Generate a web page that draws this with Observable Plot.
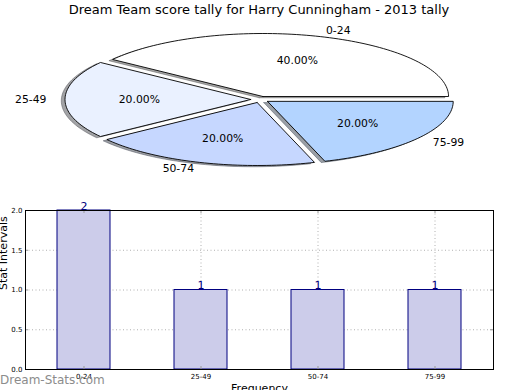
<!DOCTYPE html>
<html>
<head>
<meta charset="utf-8">
<script src="https://cdn.jsdelivr.net/npm/d3@7"></script>
<script src="https://cdn.jsdelivr.net/npm/@observablehq/plot@0.6"></script>
<style>
  html, body { margin: 0; padding: 0; background: #fff; }
  #wrap { position: relative; width: 520px; height: 390px; overflow: hidden; font-family: "DejaVu Sans", sans-serif; }
  #title { position: absolute; left: 0; width: 518px; top: 2px; text-align: center; font-size: 13px; color: #000; }
  #pie { position: absolute; left: 0; top: 0; }
  #bar { position: absolute; left: 0; top: 195px; }
  #wm { position: absolute; left: 0; top: 373px; font-size: 12px; color: #8c8c8c; }
  svg { overflow: hidden; }
</style>
</head>
<body>
<div id="wrap">
  <div id="pie"></div>
  <div id="bar"></div>
  <div id="title">Dream Team score tally for Harry Cunningham - 2013 tally</div>
  <div id="wm">Dream-Stats.com</div>
</div>
<script>
// ---- data ----
const categories = ["0-24", "25-49", "50-74", "75-99"];
const counts = [2, 1, 1, 1];
const sliceColors = ["#ffffff", "#eaf1ff", "#c6d7ff", "#b3d4ff"];
const yTicks = [0, 0.5, 1.0, 1.5, 2.0];
const explode = 0.05;

const font = "DejaVu Sans, sans-serif";

// ---- pie geometry (data space, unit radius) ----
const total = d3.sum(counts);
let acc = 0;
const slices = categories.map((cat, i) => {
  const frac = counts[i] / total;
  const a0 = acc * 2 * Math.PI, a1 = (acc + frac) * 2 * Math.PI;
  acc += frac;
  const mid = (a0 + a1) / 2;
  const cx = explode * Math.cos(mid), cy = explode * Math.sin(mid);
  const n = Math.max(8, Math.ceil(frac * 240));
  const pts = [{x: cx, y: cy}];
  for (let k = 0; k <= n; k++) {
    const a = a0 + (a1 - a0) * k / n;
    pts.push({x: cx + Math.cos(a), y: cy + Math.sin(a)});
  }
  pts.push({x: cx, y: cy});
  return {cat, frac, mid, cx, cy, pts, color: sliceColors[i]};
});

function shade(c) {
  const r = d3.rgb(c);
  return d3.rgb(r.r * 0.3, r.g * 0.3, r.b * 0.3).formatHex();
}

const pieMarks = [];
for (const s of slices) {
  const sh = s.pts.map(p => ({x: p.x - 0.02, y: p.y - 0.02}));
  pieMarks.push(Plot.line(sh, {x: "x", y: "y", fill: shade(s.color), fillOpacity: 0.5,
    stroke: shade(s.color), strokeOpacity: 0.5, strokeWidth: 0.9, strokeLinejoin: "miter"}));
}
for (const s of slices) {
  pieMarks.push(Plot.line(s.pts, {x: "x", y: "y", fill: s.color, stroke: "#000",
    strokeWidth: 0.9, strokeLinejoin: "miter", strokeMiterlimit: 4}));
}
const outerLabels = slices.map(s => ({
  x: s.cx + 1.1 * Math.cos(s.mid), y: s.cy + 1.1 * Math.sin(s.mid), t: s.cat
}));
const pctLabels = slices.map(s => ({
  x: s.cx + 0.6 * Math.cos(s.mid), y: s.cy + 0.6 * Math.sin(s.mid), t: (s.frac * 100).toFixed(2) + "%"
}));
pieMarks.push(Plot.text(outerLabels.filter(d => d.x > 0), {x: "x", y: "y", text: "t", textAnchor: "start", fontSize: 10.8, fontFamily: font, fill: "#000"}));
pieMarks.push(Plot.text(outerLabels.filter(d => d.x <= 0), {x: "x", y: "y", text: "t", textAnchor: "end", fontSize: 10.8, fontFamily: font, fill: "#000"}));
pieMarks.push(Plot.text(pctLabels, {x: "x", y: "y", text: "t", fontSize: 10.8, fontFamily: font, fill: "#000"}));

const pie = Plot.plot({
  width: 520, height: 195,
  margin: 0,
  x: {domain: [-1, 1], range: [73.8, 445.2], axis: null},
  y: {domain: [-1, 1], range: [162, 36], axis: null},
  style: {background: "transparent", fontFamily: font},
  marks: pieMarks
});
document.getElementById("pie").appendChild(pie);

// ---- bar chart ----
const barData = categories.map((c, i) => ({cat: c, count: counts[i]}));
const gridStyle = {stroke: "#b0b0b0", strokeOpacity: 1, strokeDasharray: "1,2.5", strokeWidth: 1};
const fw = 520 - 25 - 27, fh = 195 - 15 - 21, tk = 3;

const bar = Plot.plot({
  width: 520, height: 195,
  marginTop: 15, marginBottom: 21, marginLeft: 25, marginRight: 27,
  style: {background: "transparent", fontFamily: font, color: "#000"},
  x: {type: "band", domain: categories, paddingInner: 0.55, paddingOuter: 0.275, label: null},
  y: {domain: [0, 2], label: null},
  marks: [
    Plot.gridX({...gridStyle}),
    Plot.gridY({ticks: yTicks, ...gridStyle}),
    Plot.barY(barData, {x: "cat", y: "count", fill: "#ccccea", stroke: "#000080", strokeWidth: 1}),
    Plot.tickY(yTicks, {y: d => d, insetRight: fw - tk, stroke: "#999"}),
    Plot.tickY(yTicks, {y: d => d, insetLeft: fw - tk, stroke: "#999"}),
    Plot.tickX(categories, {x: d => d, insetTop: fh - tk, stroke: "#999"}),
    Plot.tickX(categories, {x: d => d, insetBottom: fh - tk, stroke: "#999"}),
    Plot.text(barData, {x: "cat", y: "count", text: d => String(d.count), lineAnchor: "bottom", dy: -1,
      fill: "#000080", fontSize: 11, fontFamily: font}),
    Plot.frame({stroke: "#000", strokeWidth: 1}),
    Plot.axisY({ticks: yTicks, tickSize: 0, tickPadding: 3, tickFormat: d3.format(".1f"), fontSize: 7, label: null}),
    Plot.axisX({tickSize: 0, tickPadding: 5, fontSize: 7, label: null}),
    Plot.text(["Stat Intervals"], {frameAnchor: "left", rotate: -90, dx: -19, lineAnchor: "bottom",
      fontSize: 11, fontFamily: font, fill: "#000"}),
    Plot.text(["Frequency"], {frameAnchor: "bottom", dy: 15, lineAnchor: "top",
      fontSize: 11, fontFamily: font, fill: "#000"})
  ]
});
document.getElementById("bar").appendChild(bar);
</script>
</body>
</html>
